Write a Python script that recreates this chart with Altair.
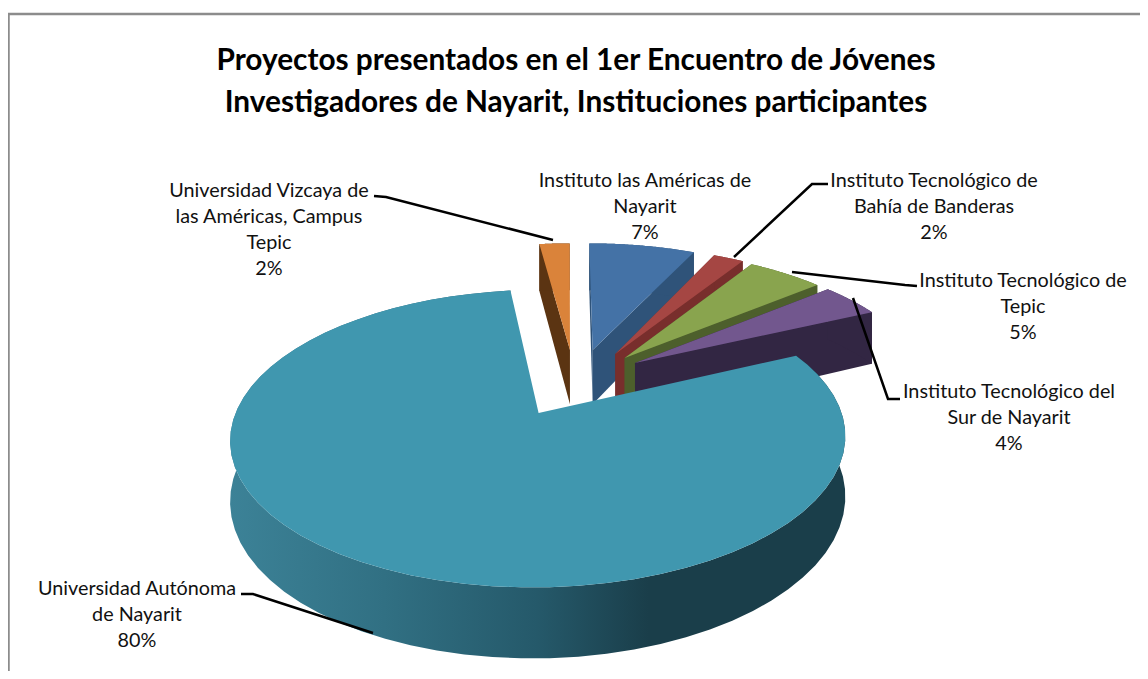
import math
import altair as alt
import pandas as pd

# ---- data -----------------------------------------------------------------
names = ["Instituto las Américas de Nayarit", "Instituto Tecnológico de Bahía de Banderas",
         "Instituto Tecnológico de Tepic", "Instituto Tecnológico del Sur de Nayarit",
         "Universidad Autónoma de Nayarit", "Universidad Vizcaya de las Américas, Campus Tepic"]
shares = [7, 2, 5, 4, 80, 2]
title_lines = ["Proyectos presentados en el 1er Encuentro de Jóvenes",
               "Investigadores de Nayarit, Instituciones participantes"]
label_lines = [
    ["Instituto las Américas de", "Nayarit", "7%"],
    ["Instituto Tecnológico de", "Bahía de Banderas", "2%"],
    ["Instituto Tecnológico de", "Tepic", "5%"],
    ["Instituto Tecnológico del", "Sur de Nayarit", "4%"],
    ["Universidad Autónoma", "de Nayarit", "80%"],
    ["Universidad Vizcaya de", "las Américas, Campus", "Tepic", "2%"],
]

# ---- styling and layout ---------------------------------------------------
top_colors = ["#4472A6", "#A54643", "#89A44E", "#72578E", "#4097AF", "#DA833A"]
wall_colors = ["#2F5379", "#782E2C", "#4D5F2C", "#322643", "#2a6375", "#5B3412"]
explode = [(0.088, -0.293), (0.168, -0.261), (0.2, -0.229), (0.235, -0.189), (-0.097, 0.178), (0.007, -0.293)]
label_anchor = [(645, 187), (934, 187), (1023, 287), (1009, 398), (137, 595), (269, 197)]
leaders = [
    None,
    [(828, 184), (812, 184), (734, 257)],
    [(917, 286), (905, 285), (792, 272)],
    [(900, 399), (888, 399), (853, 298)],
    [(241, 594), (253, 594), (373, 633)],
    [(374, 196), (386, 197), (553, 240)],
]
W, H = 1132, 663
CX, CY, R, RB, K, DEPTH = 568, 388, 294, 136, 0.167, 57
FONT = "Lato"

xs = alt.Scale(domain=[8, 8 + W], range=[0, W], nice=False, zero=False)
ys = alt.Scale(domain=[8 + H, 8], range=[H, 0], nice=False, zero=False)


def project(u, v, drop=0.0):
    s = 1 / (1 - K * v)
    return CX + R * u * s, CY + RB * v * s + drop * DEPTH * s


def rim(i, a0, a1, drop=0.0, n=64):
    eu, ev = explode[i]
    pts = []
    for j in range(n + 1):
        t = math.radians(a0 + (a1 - a0) * j / n)
        pts.append(project(eu + math.sin(t), ev - math.cos(t), drop))
    return pts


def frame(faces):
    rows = []
    for f, pts in enumerate(faces):
        for o, (x, y) in enumerate(pts):
            rows.append({"x": x, "y": y, "f": f, "o": o})
    return pd.DataFrame(rows)


def polys(faces, fill):
    return alt.Chart(frame(faces)).mark_line(fill=fill, stroke="transparent", clip=False).encode(
        x=alt.X("x:Q", scale=xs, axis=None),
        y=alt.Y("y:Q", scale=ys, axis=None),
        detail="f:N",
        order="o:Q",
    )


cum = [0]
for s in shares:
    cum.append(cum[-1] + s)
total = cum[-1]

layers = []
paint_order = [5, 0, 1, 2, 3, 4]
for i in paint_order:
    a0, a1 = 360 * cum[i] / total, 360 * cum[i + 1] / total
    eu, ev = explode[i]
    apex, apex_low = project(eu, ev), project(eu, ev, 1)
    outer = rim(i, a0, a1)
    outer_low = rim(i, a0, a1, 1)
    wall_a = [apex, outer[0], outer_low[0], apex_low]
    wall_b = [apex, outer[-1], outer_low[-1], apex_low]
    skirt = outer + outer_low[::-1]
    if i == 4:
        grad = alt.Gradient(
            gradient="linear", x1=0, x2=1, y1=0, y2=0,
            stops=[alt.GradientStop(offset=0, color="#3c8297"),
                   alt.GradientStop(offset=0.25, color="#317083"),
                   alt.GradientStop(offset=0.5, color="#25596a"),
                   alt.GradientStop(offset=0.68, color="#1a3e4a"),
                   alt.GradientStop(offset=1, color="#1a3e4a")])
        layers.append(polys([skirt], grad))
    else:
        layers.append(polys([wall_a, wall_b, skirt], wall_colors[i]))
    layers.append(polys([[apex] + outer], top_colors[i]))

# chart frame
frame_df = pd.DataFrame({"x": [8.5, 8.5, 8 + W], "y": [8 + H, 14, 14], "o": [0, 1, 2]})
layers.append(alt.Chart(frame_df).mark_line(color="#8c8c8c", strokeWidth=2.5).encode(
    x=alt.X("x:Q", scale=xs, axis=None), y=alt.Y("y:Q", scale=ys, axis=None), order="o:Q"))

# leader lines
rows = []
for k, pts in enumerate(leaders):
    if pts:
        for o, (x, y) in enumerate(pts):
            rows.append({"x": x, "y": y, "k": k, "o": o})
layers.append(alt.Chart(pd.DataFrame(rows)).mark_line(color="black", strokeWidth=2.5).encode(
    x=alt.X("x:Q", scale=xs, axis=None), y=alt.Y("y:Q", scale=ys, axis=None), detail="k:N", order="o:Q"))

# labels
rows = []
for (x, y), lines in zip(label_anchor, label_lines):
    for n, t in enumerate(lines):
        rows.append({"x": x, "y": y + 26 * n, "t": t})
layers.append(alt.Chart(pd.DataFrame(rows)).mark_text(
    font=FONT, fontSize=19.8, color="#111111", align="center", baseline="alphabetic").encode(
    x=alt.X("x:Q", scale=xs, axis=None), y=alt.Y("y:Q", scale=ys, axis=None), text="t:N"))

# title
tdf = pd.DataFrame({"x": [576, 576], "y": [70, 112], "t": title_lines})
layers.append(alt.Chart(tdf).mark_text(
    font=FONT, fontSize=29.8, fontWeight="bold", color="black", align="center", baseline="alphabetic").encode(
    x=alt.X("x:Q", scale=xs, axis=None), y=alt.Y("y:Q", scale=ys, axis=None), text="t:N"))

chart = alt.layer(*layers).properties(
    width=W, height=H, padding=0, autosize=alt.AutoSizeParams(type="none"), background="white"
).configure_view(stroke=None)

chart.save("out.html", embed_options={"renderer": "svg", "actions": False})
